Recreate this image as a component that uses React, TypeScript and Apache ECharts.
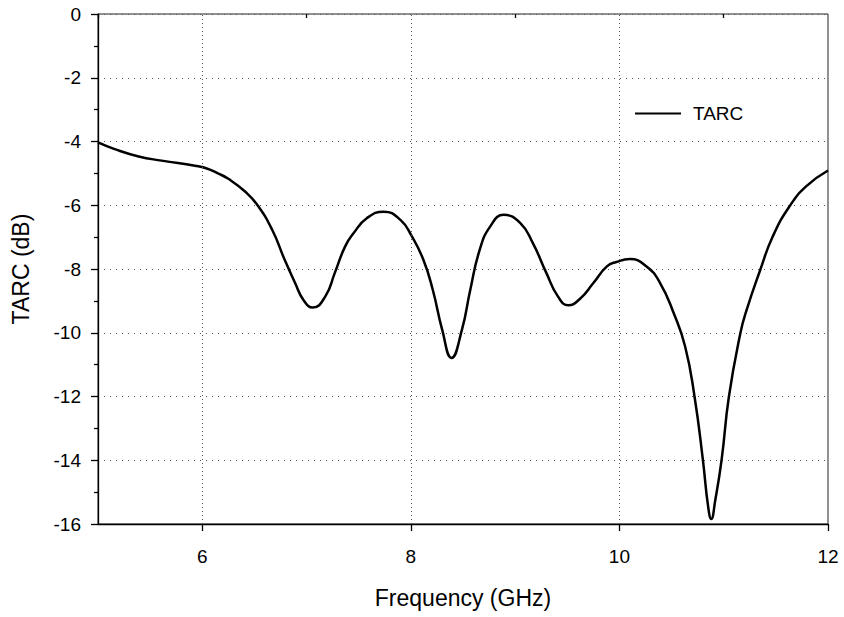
import React, { useEffect, useRef } from "react";
import * as echarts from "echarts";

// Measured TARC curve (frequency in GHz, TARC in dB)
const freqGHz = [
  5.0, 5.16, 5.39, 5.61, 5.93, 6.03, 6.15, 6.25, 6.41, 6.53, 6.67, 6.79, 6.89,
  6.97, 7.06, 7.18, 7.27, 7.37, 7.45, 7.58, 7.74, 7.9, 8.01, 8.12, 8.21, 8.3,
  8.39, 8.49, 8.57, 8.66, 8.76, 8.89, 9.05, 9.17, 9.3, 9.41, 9.51, 9.62, 9.75,
  9.88, 9.97, 10.1, 10.26, 10.39, 10.52, 10.63, 10.72, 10.8, 10.85, 10.88,
  10.92, 10.98, 11.05, 11.16, 11.22, 11.35, 11.47, 11.63, 11.79, 12.0,
];
const tarcDb = [
  -4.03, -4.24, -4.47, -4.6, -4.76, -4.83, -5.0, -5.17, -5.57, -6.0, -6.77,
  -7.71, -8.44, -8.97, -9.21, -8.86, -8.13, -7.29, -6.88, -6.4, -6.2, -6.46,
  -6.98, -7.71, -8.65, -9.9, -10.79, -9.9, -8.65, -7.4, -6.67, -6.3, -6.56,
  -7.19, -8.13, -8.86, -9.14, -8.94, -8.44, -7.92, -7.78, -7.69, -7.92, -8.44,
  -9.38, -10.43, -12.0, -13.98, -15.44, -15.84, -15.23, -13.98, -12.0, -10.01,
  -9.28, -8.03, -6.98, -6.04, -5.41, -4.91,
];

const xMajorTicks = [6, 8, 10, 12];
const xMinorTicks = [5, 7, 9, 11];
const xGridLines = [6, 8, 10];

const FONT = "'Liberation Sans', Arial, sans-serif";

export default function App() {
  const ref = useRef<HTMLDivElement>(null);

  useEffect(() => {
    if (!ref.current) return;
    const chart = echarts.init(ref.current, null, { renderer: "svg" });
    const data = freqGHz.map((f, i) => [f, tarcDb[i]]);

    chart.setOption({
      animation: false,
      backgroundColor: "#ffffff",
      textStyle: { fontFamily: FONT },
      grid: {
        left: 98,
        right: 16,
        top: 14,
        bottom: 93,
        show: true,
        borderColor: "#222",
        borderWidth: 1,
        backgroundColor: "transparent",
      },
      legend: {
        left: 635,
        top: 104,
        padding: 0,
        itemWidth: 46,
        itemHeight: 14,
        icon: "path://M0,6.5 L46,6.5 L46,8.5 L0,8.5 Z",
        textStyle: {
          fontFamily: FONT,
          fontSize: 19,
          color: "#000",
          padding: [0, 0, 0, 7],
        },
        data: [{ name: "TARC", itemStyle: { color: "#000" } }],
      },
      xAxis: [
        {
          type: "value",
          min: 5,
          max: 12,
          interval: 1,
          name: "Frequency (GHz)",
          nameLocation: "middle",
          nameGap: 62,
          nameTextStyle: { fontFamily: FONT, fontSize: 23, color: "#000" },
          axisLine: { show: true, onZero: false, lineStyle: { color: "#000", width: 1.3 } },
          axisTick: {
            show: true,
            length: 7,
            customValues: xMajorTicks,
            lineStyle: { color: "#000", width: 1.3 },
          },
          axisLabel: {
            customValues: xMajorTicks,
            margin: 23,
            fontFamily: FONT,
            fontSize: 19,
            color: "#000",
          },
          splitLine: { show: false },
        },
        {
          type: "value",
          min: 5,
          max: 12,
          interval: 1,
          position: "bottom",
          axisLine: { show: false },
          axisTick: {
            show: true,
            length: 4,
            customValues: xMinorTicks,
            lineStyle: { color: "#000", width: 1.3 },
          },
          axisLabel: { show: false },
          splitLine: { show: false },
        },
      ],
      yAxis: {
        type: "value",
        min: -16,
        max: 0,
        interval: 2,
        name: "TARC (dB)",
        nameLocation: "middle",
        nameGap: 66,
        nameTextStyle: { fontFamily: FONT, fontSize: 23, color: "#000" },
        axisLine: { show: true, onZero: false, lineStyle: { color: "#000", width: 1.3 } },
        axisTick: { show: true, length: 7, lineStyle: { color: "#000", width: 1.3 } },
        minorTick: { show: true, splitNumber: 2, length: 4, lineStyle: { color: "#000", width: 1.3 } },
        axisLabel: { margin: 17, fontFamily: FONT, fontSize: 19, color: "#000" },
        splitLine: {
          show: true,
          lineStyle: { color: "#555", width: 1, type: [1, 5] },
        },
      },
      series: [
        {
          name: "TARC",
          type: "line",
          xAxisIndex: 0,
          data,
          smooth: 0.5,
          showSymbol: false,
          symbol: "none",
          lineStyle: { color: "#000", width: 2.5 },
          itemStyle: { color: "#000" },
          markLine: {
            silent: true,
            symbol: "none",
            label: { show: false },
            lineStyle: { color: "#555", width: 1, type: [1, 3] },
            data: xGridLines.map((v) => ({ xAxis: v })),
          },
          z: 3,
        },
      ],
    });

    return () => chart.dispose();
  }, []);

  return (
    <div
      style={{
        position: "fixed",
        left: 0,
        top: 0,
        width: 844,
        height: 617,
        overflow: "hidden",
        background: "#fff",
      }}
    >
      <div ref={ref} style={{ width: 844, height: 617 }} />
    </div>
  );
}
